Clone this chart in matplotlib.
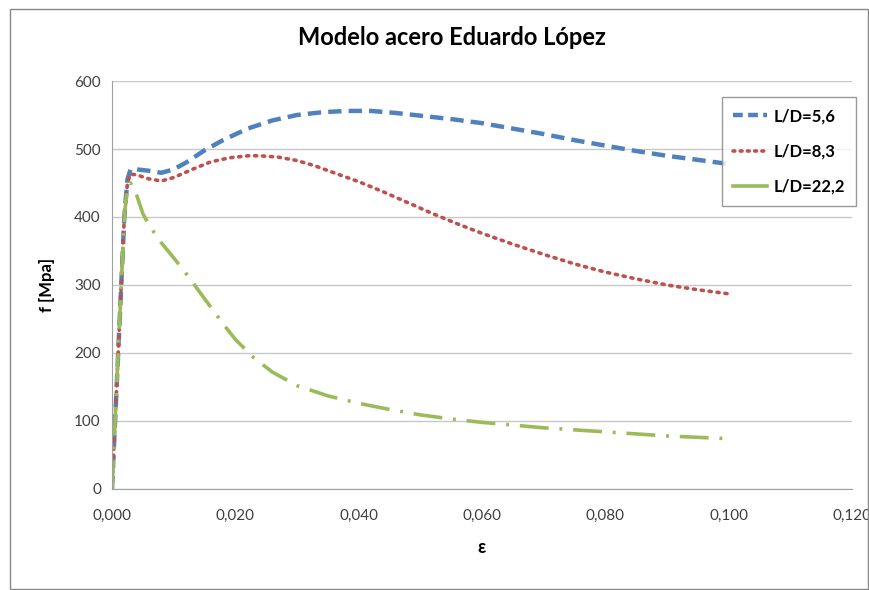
import matplotlib.pyplot as plt
from matplotlib.lines import Line2D
from matplotlib.patches import Rectangle

# strain values (mm/mm) and stress (MPa)
eps_56 = [0, 0.0005, 0.001, 0.0015, 0.002, 0.0025, 0.003, 0.004, 0.006, 0.008, 0.010,
          0.012, 0.015, 0.018, 0.022, 0.026, 0.030, 0.034, 0.038, 0.042, 0.046, 0.050,
          0.055, 0.060, 0.065, 0.070, 0.075, 0.080, 0.085, 0.090, 0.095, 0.100]
f_56 = [0, 100, 200, 300, 400, 455, 470, 470, 468, 465, 470,
        480, 498, 513, 530, 542, 550, 554, 556, 556, 553, 549,
        544, 538, 530, 522, 513, 505, 497, 490, 484, 478]

eps_83 = [0, 0.0005, 0.001, 0.0015, 0.002, 0.0025, 0.003, 0.004, 0.006, 0.008, 0.010,
          0.013, 0.016, 0.019, 0.022, 0.024, 0.027, 0.030, 0.033, 0.036, 0.040, 0.044,
          0.048, 0.052, 0.056, 0.060, 0.065, 0.070, 0.075, 0.080, 0.085, 0.090, 0.095, 0.100]
f_83 = [0, 100, 200, 300, 400, 450, 463, 462, 456, 453, 458,
        470, 481, 487, 490, 490, 488, 483, 475, 465, 452, 437,
        421, 405, 390, 376, 360, 345, 331, 319, 309, 300, 293, 287]

eps_222 = [0, 0.0005, 0.001, 0.0015, 0.002, 0.0025, 0.003, 0.004, 0.005, 0.006, 0.008,
           0.010, 0.012, 0.015, 0.018, 0.020, 0.023, 0.026, 0.030, 0.035, 0.040, 0.045,
           0.050, 0.055, 0.060, 0.065, 0.070, 0.075, 0.080, 0.085, 0.090, 0.095, 0.100]
f_222 = [0, 100, 200, 300, 400, 445, 450, 432, 405, 388, 362,
         340, 317, 280, 243, 220, 193, 172, 152, 137, 126, 117,
         109, 103, 98, 94, 90, 87, 84, 81, 78, 76, 74]

x_ticks = [0, 0.02, 0.04, 0.06, 0.08, 0.10, 0.12]
y_ticks = [0, 100, 200, 300, 400, 500, 600]

blue = '#4F81BD'
red = '#C0504D'
green = '#9BBB59'

plt.rcParams['font.family'] = ['Lato', 'DejaVu Sans']

fig = plt.figure(figsize=(8.7, 5.9), dpi=100)
fig.patches.append(Rectangle((10 / 870, 1 / 590), 858 / 870, 580 / 590,
                             transform=fig.transFigure, fill=False,
                             edgecolor='#888888', linewidth=1))
ax = fig.add_axes([112 / 870, 101 / 590, 740 / 870, 408 / 590])

ax.plot(eps_56, f_56, color=blue, lw=3.2, linestyle=(0, (3, 1.6)),
        label='L/D=5,6')
ax.plot(eps_83, f_83, color=red, lw=2.6, linestyle=(0, (0.6, 1.6)),
        dash_capstyle='round', label='L/D=8,3')
ax.plot(eps_222, f_222, color=green, lw=2.6, linestyle=(0, (8, 3, 0.8, 3)),
        label='L/D=22,2')

ax.set_xlim(0, 0.12)
ax.set_ylim(0, 600)
ax.set_xticks(x_ticks)
ax.set_xticklabels([('%.3f' % v).replace('.', ',') for v in x_ticks])
ax.set_yticks(y_ticks)
ax.tick_params(axis='both', labelsize=11, colors='#404040', length=0, pad=14)
ax.tick_params(axis='y', pad=8)
ax.yaxis.grid(True, color='#C8C8C8', linewidth=1)
ax.set_axisbelow(True)
for side in ['top', 'right']:
    ax.spines[side].set_visible(False)
for side in ['left', 'bottom']:
    ax.spines[side].set_color('#A0A0A0')

ax.set_xlabel('ε', fontsize=13, fontweight='bold', labelpad=12)
ax.set_ylabel('f [Mpa]', fontsize=12, fontweight='bold', labelpad=14)
fig.text(0.52, 0.937, 'Modelo acero Eduardo López', ha='center', va='center',
         fontsize=17, fontweight='bold')

handles = [Line2D([], [], color=blue, lw=3.2, linestyle=(0, (2.2, 1.2))),
           Line2D([], [], color=red, lw=2.6, linestyle=(0, (0.5, 1.5)),
                  dash_capstyle='round'),
           Line2D([], [], color=green, lw=2.6)]
leg = ax.legend(handles, ['L/D=5,6', 'L/D=8,3', 'L/D=22,2'],
                loc='upper right', bbox_to_anchor=(1.006, 0.962),
                frameon=True, fancybox=False, handlelength=2.0,
                handletextpad=0.4, labelspacing=1.15, borderpad=0.7,
                borderaxespad=0, prop={'weight': 'bold', 'size': 12})
leg.get_frame().set_edgecolor('#808080')
leg.get_frame().set_linewidth(1)

fig.savefig('out.png', dpi=100)
